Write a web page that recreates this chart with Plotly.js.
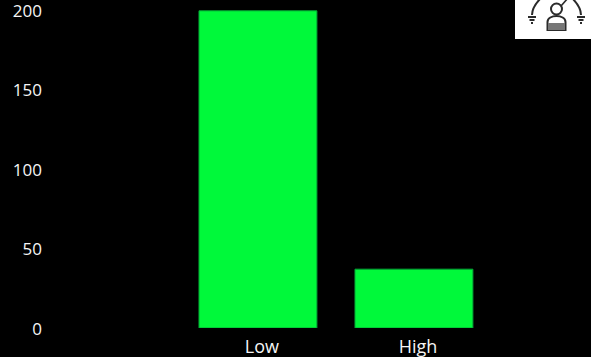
<!DOCTYPE html>
<html><head><meta charset="utf-8">
<script src="https://cdn.plot.ly/plotly-3.0.1.min.js"></script>
<style>html,body{margin:0;padding:0;background:#000;overflow:hidden}</style></head>
<body><div id="chart" style="width:591px;height:357px"></div>
<script>
const categories = ["Low", "High"];
const counts = [199.5, 37];
const yTicks = [0, 50, 100, 150, 200];
const icon = `<svg xmlns="http://www.w3.org/2000/svg" viewBox="0 0 76 39"><rect width="76" height="39" fill="#fff"/><g fill="none" stroke="#2b2b2b" stroke-width="2"><path d="M17 15C17 9 21 3 26 -2M66 15C66 9 62 3 57 -2"/><path d="M13 17h8M14.5 20h5M16 23h2M62 17h8M63.5 20h5M65 23h2"/><circle cx="41.5" cy="9" r="5.5"/><path d="M32.5 22c0-8 18-8 18 0v8h-18z"/><path d="M46 6L53 -2" stroke-width="1.6"/></g><rect x="33" y="23" width="17" height="7" fill="#777"/></svg>`;
Plotly.newPlot("chart", [{
  type: "bar", x: categories, y: counts, width: 0.756,
  marker: {color: "#00F93A", line: {color: "#04A336", width: 1}},
  hoverinfo: "skip"
}], {
  width: 591, height: 357,
  paper_bgcolor: "#000", plot_bgcolor: "#000",
  margin: {l: 45, r: 0, t: 0, b: 29, pad: 0},
  font: {family: "'Open Sans', 'Noto Sans', sans-serif", size: 17, color: "#F5F5F5"},
  showlegend: false,
  xaxis: {type: "category", range: [-1.365, 2.135], showgrid: false, zeroline: false, showline: false, ticks: "", ticklabelshift: 4, ticklabelstandoff: 6, ticklabeloverflow: "allow", tickfont: {size: 18}},
  yaxis: {range: [0, 206.3], tickvals: yTicks, showgrid: false, zeroline: false, showline: false, ticks: "", ticklabelstandoff: 2, ticklabelshift: 1, ticklabeloverflow: "allow", tickfont: {size: 17}},
  images: [{source: "data:image/svg+xml;utf8," + encodeURIComponent(icon), xref: "paper", yref: "paper", x: 1, y: 1, xanchor: "right", yanchor: "top", sizex: 76/546, sizey: 39/328, sizing: "stretch", layer: "above"}]
}, {displayModeBar: false, staticPlot: true});
</script></body></html>
